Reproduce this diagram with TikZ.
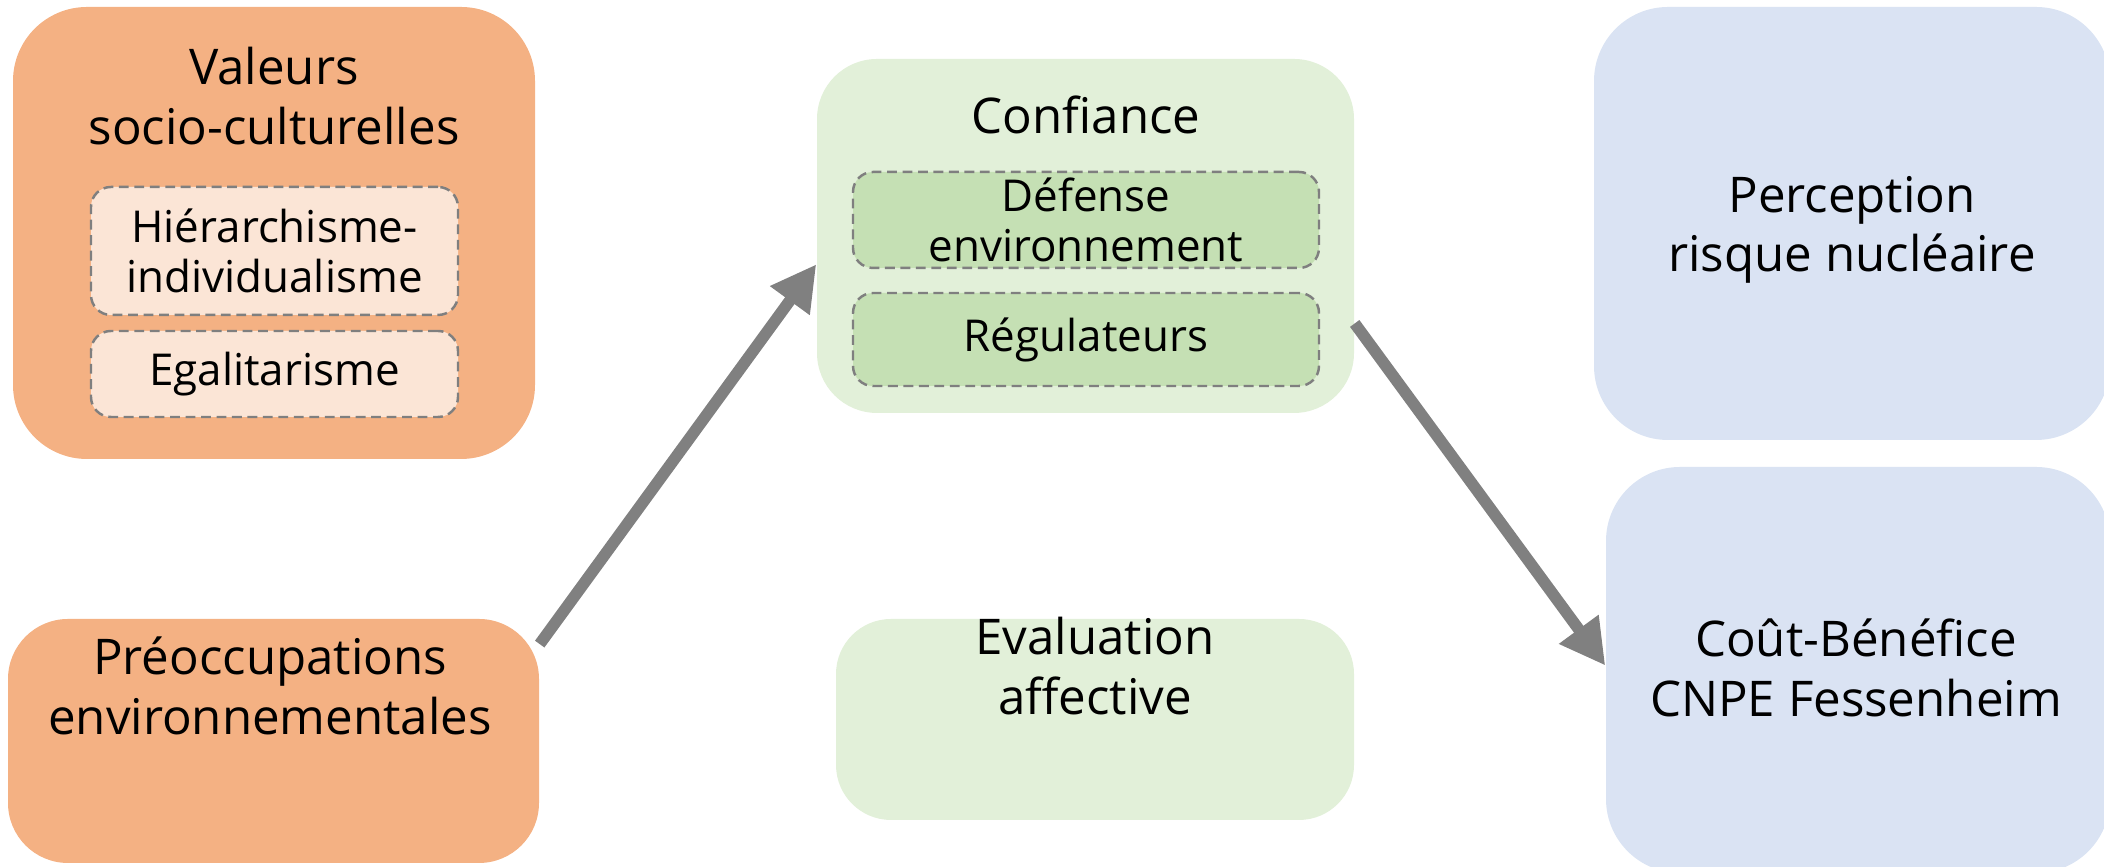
\documentclass[tikz,border=0pt]{standalone}
\usepackage{fontspec}
\setmainfont{Open Sans}
\usepackage{xcolor}
\usetikzlibrary{arrows.meta}
\definecolor{orangebox}{HTML}{F4B183}
\definecolor{orangein}{HTML}{FBE5D6}
\definecolor{greenbox}{HTML}{E2F0D9}
\definecolor{greenin}{HTML}{C5E0B4}
\definecolor{bluebox}{HTML}{DAE3F3}
\definecolor{arrowgray}{HTML}{808080}
\definecolor{dashgray}{HTML}{7F7F7F}

\begin{document}
\begin{tikzpicture}[
  box/.style={rectangle, inner sep=0pt, draw=none},
  sub/.style={rectangle, rounded corners=0.2cm, draw=dashgray, line width=0.7pt,
    dash pattern=on 2.8pt off 1.6pt, inner sep=0pt, align=center,
    font=\fontsize{12.5}{14}\selectfont},
  txt/.style={align=center, font=\fontsize{14}{17}\selectfont},
  arr/.style={draw=arrowgray, line width=3.3pt}]
\def\l{0.45cm}
\def\w{0.46cm}
\useasboundingbox (0,0) rectangle (21.04,8.67);
%\draw[help lines] (0,0) grid (21,8);

% left column
\node [box, fill=orangebox, rounded corners=0.74cm, minimum width=5.22cm, minimum height=4.52cm, name=val]  at (2.74,6.34) {};
\node [txt, name=valT]  at (2.74,7.71) {Valeurs\\socio-culturelles};
\node [sub, fill=orangein, minimum width=3.67cm, minimum height=1.28cm, name=hier] at (2.745,6.16) {Hiérarchisme-\\individualisme};
\node [sub, fill=orangein, minimum width=3.67cm, minimum height=0.86cm, name=ega]  at (2.745,4.93) {Egalitarisme};
\node [box, fill=orangebox, rounded corners=0.6cm, minimum width=5.31cm, minimum height=2.44cm, name=preo]  at (2.735,1.26) {};
\node [txt, name=preoT] at (2.7,1.81) {Préoccupations\\environnementales};

% middle column
\node [box, fill=greenbox, rounded corners=0.6cm, minimum width=5.37cm, minimum height=3.54cm, name=conf]  at (10.855,6.31) {};
\node [txt, name=confT] at (10.86,7.52) {Confiance};
\node [sub, fill=greenin, minimum width=4.66cm, minimum height=0.96cm, name=def]  at (10.86,6.47) {Défense\\environnement};
\node [sub, fill=greenin, minimum width=4.66cm, minimum height=0.93cm, name=reg]  at (10.86,5.275) {Régulateurs};
\node [box, fill=greenbox, rounded corners=0.55cm, minimum width=5.18cm, minimum height=2.01cm, name=eval]  at (10.95,1.475) {};
\node [txt, name=evalT] at (10.95,2.01) {Evaluation\\affective};

% right column
\node [box, fill=bluebox, rounded corners=0.74cm, minimum width=5.16cm, minimum height=4.33cm, name=perc]  at (18.52,6.435) {};
\node [txt, name=percT] at (18.52,6.37) {Perception\\risque nucléaire};
\node [box, fill=bluebox, rounded corners=0.74cm, minimum width=5.04cm, minimum height=4.06cm, name=cout]  at (18.58,1.97) {};
\node [txt, name=coutT] at (18.56,1.99) {Coût-Bénéfice\\CNPE Fessenheim};

\draw [arr, -{Triangle[length=\l, width=\w]}](preo.20) -- (conf.186);
\draw [arr, -{Triangle[length=\l, width=\w]}](conf.-18.5) -- (cout.179);
\end{tikzpicture}
\end{document}
